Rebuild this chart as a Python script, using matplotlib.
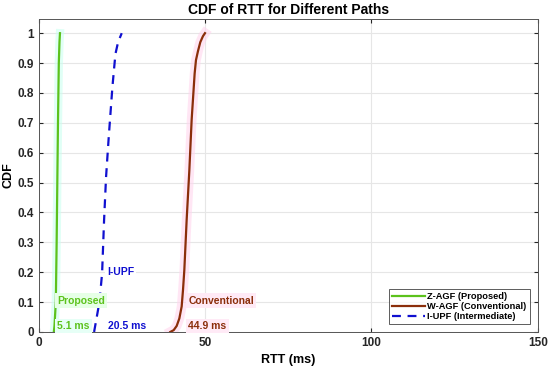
import matplotlib
matplotlib.use('Agg')
import matplotlib.pyplot as plt
import numpy as np

plt.rcParams['font.family'] = ['Liberation Sans', 'DejaVu Sans']
plt.rcParams['font.weight'] = 'bold'

# CDF levels and RTT values (ms)
zagf_cdf = [0.0, 0.02, 0.1, 0.3, 0.5, 0.7, 0.9, 0.97, 1.0]
zagf_rtt = [4.6, 4.8, 5.2, 5.45, 5.65, 5.85, 6.1, 6.3, 6.45]

wagf_cdf = [0.0, 0.006, 0.02, 0.045, 0.085, 0.14, 0.207, 0.375, 0.54, 0.71, 0.865,
            0.91, 0.94, 0.97, 0.99, 1.0]
wagf_rtt = [39.6, 40.6, 41.5, 42.3, 43.0, 43.4, 43.8, 44.5, 45.3, 46.0, 46.9,
            47.3, 47.9, 48.6, 49.4, 50.0]

iupf_cdf = [0.0, 0.05, 0.1, 0.196, 0.375, 0.52, 0.653, 0.82, 0.93, 0.97, 1.0]
iupf_rtt = [16.7, 17.5, 18.3, 19.1, 19.7, 20.3, 21.1, 22.2, 23.1, 23.9, 25.0]

green = '#5cc21c'
brown = '#8b2e0a'
blue = '#1010d0'

fig = plt.figure(figsize=(5.5, 3.68), dpi=100)
ax = fig.add_axes([0.07, 0.098, 0.908, 0.85])

# faint glow bands behind the solid curves
ax.plot(zagf_rtt, zagf_cdf, color='#ccfff0', lw=6, alpha=0.6, zorder=1)
ax.plot(wagf_rtt, wagf_cdf, color='#ffd6ee', lw=7, alpha=0.6, zorder=1)

ax.plot(zagf_rtt, zagf_cdf, color=green, lw=1.6, label='Z-AGF (Proposed)', zorder=3)
ax.plot(wagf_rtt, wagf_cdf, color=brown, lw=1.6, label='W-AGF (Conventional)', zorder=3)
ax.plot(iupf_rtt, iupf_cdf, color=blue, lw=1.6, ls=(0, (4, 3)), label='I-UPF (Intermediate)', zorder=3)

# annotations
fs = 7.5
ax.text(5.6, 0.105, 'Proposed', color=green, fontsize=fs, fontweight='bold', va='center',
        bbox=dict(facecolor='#e6ffe6', edgecolor='none', pad=1.5), zorder=4)
ax.text(5.6, 0.02, '5.1 ms', color=green, fontsize=fs, fontweight='bold', va='center',
        bbox=dict(facecolor='#e6fff6', edgecolor='none', pad=1.5), zorder=4)
ax.text(20.6, 0.2, 'I-UPF', color=blue, fontsize=fs, fontweight='bold', va='center',
        bbox=dict(facecolor='white', edgecolor='none', pad=1.5), zorder=4)
ax.text(21.0, 0.02, '20.5 ms', color=blue, fontsize=fs, fontweight='bold', va='center', zorder=4)
ax.text(45.0, 0.105, 'Conventional', color=brown, fontsize=fs, fontweight='bold', va='center',
        bbox=dict(facecolor='#ffeaf6', edgecolor='none', pad=1.5), zorder=4)
ax.text(45.0, 0.02, '44.9 ms', color=brown, fontsize=fs, fontweight='bold', va='center',
        bbox=dict(facecolor='#ffeaf6', edgecolor='none', pad=1.5), zorder=4)

ax.set_xlim(0, 150)
ax.set_ylim(0, 1.047)
ax.set_xticks([0, 50, 100, 150])
ax.set_yticks(np.round(np.arange(0, 1.01, 0.1), 1))
ax.set_yticklabels(['0', '0.1', '0.2', '0.3', '0.4', '0.5', '0.6', '0.7', '0.8', '0.9', '1'])
ax.grid(True, color='#e6e6e6', lw=0.8)
ax.set_axisbelow(True)
ax.tick_params(direction='in', length=3, labelsize=8.5, colors='#262626', top=True, right=True,
               labeltop=False, labelright=False)
for s in ax.spines.values():
    s.set_color('#555555')
    s.set_linewidth(0.7)

ax.set_xlabel('RTT (ms)', fontsize=9, fontweight='bold', labelpad=4)
ax.set_ylabel('CDF', fontsize=9, fontweight='bold', labelpad=2)
ax.set_title('CDF of RTT for Different Paths', fontsize=10, fontweight='bold', pad=4)

leg = ax.legend(loc='lower right', fontsize=6.7, frameon=True, fancybox=False,
                handlelength=3.5, borderpad=0.3, labelspacing=0.1, handletextpad=0.3,
                borderaxespad=0.9)
leg.get_frame().set_edgecolor('#333333')
leg.get_frame().set_linewidth(0.7)

fig.savefig('out.png', dpi=100)
